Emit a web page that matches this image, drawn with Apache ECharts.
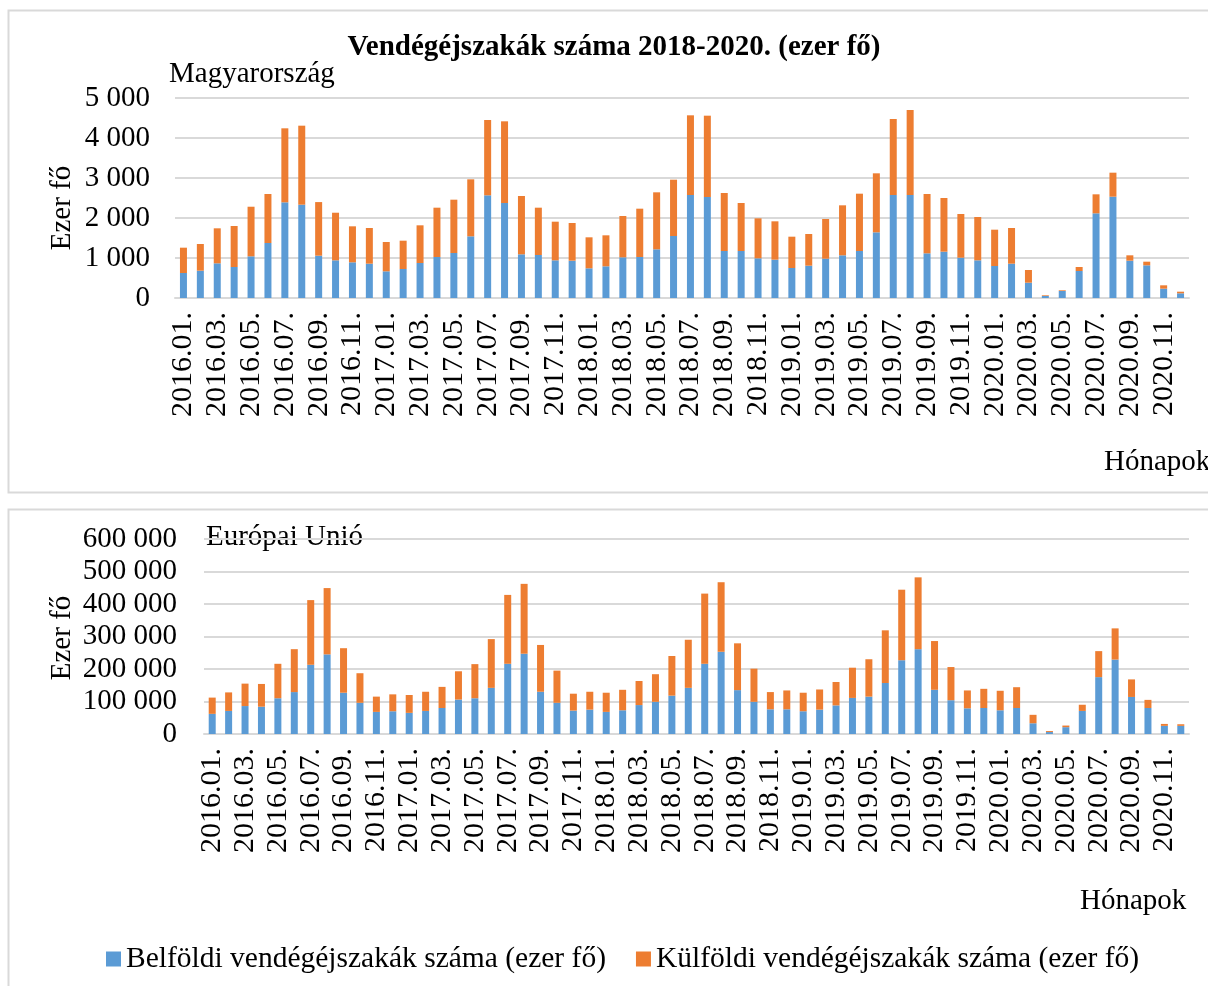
<!DOCTYPE html>
<html>
<head>
<meta charset="utf-8">
<script src="https://cdn.jsdelivr.net/npm/echarts@6/dist/echarts.min.js"></script>
<style>
  html, body { margin: 0; padding: 0; background: #fff; }
  #chart { width: 1208px; height: 986px; }
</style>
</head>
<body>
<div id="chart"></div>
<script>
// months 2016.01. - 2020.12.
var months = [];
[2016, 2017, 2018, 2019, 2020].forEach(function (y) {
    for (var m = 1; m <= 12; m++) {
        months.push(y + '.' + (m < 10 ? '0' + m : m) + '.');
    }
});

// Magyarország, ezer fő
var huBelfoldi = [
    625, 683, 867, 775, 1042, 1375, 2392, 2333, 1058, 942, 892, 858,
    667, 725, 875, 1025, 1125, 1542, 2567, 2375, 1092, 1075, 942, 933,
    742, 792, 1017, 1025, 1217, 1550, 2575, 2525, 1175, 1175, 992, 958,
    750, 808, 983, 1067, 1175, 1642, 2575, 2575, 1117, 1158, 1008, 942,
    800, 858, 383, 50, 175, 675, 2117, 2533, 933, 817, 233, 117
];
var huKulfoldi = [
    633, 667, 875, 1025, 1240, 1225, 1850, 1975, 1340, 1190, 900, 892,
    733, 708, 942, 1233, 1333, 1425, 1883, 2042, 1458, 1183, 966, 942,
    775, 775, 1033, 1208, 1425, 1408, 1992, 2033, 1450, 1200, 1000, 959,
    783, 792, 992, 1250, 1433, 1475, 1900, 2125, 1483, 1342, 1092, 1083,
    908, 892, 317, 17, 17, 100, 475, 600, 134, 91, 84, 41
];

// Európai Unió, ezer fő
var euBelfoldi = [
    62000, 71000, 86000, 84000, 110000, 129000, 213000, 245000, 127000, 96000, 68000, 70000,
    65000, 71000, 80000, 106000, 110000, 142000, 216000, 247000, 130000, 96000, 72000, 75000,
    68000, 73000, 89000, 99000, 118000, 142000, 216000, 253000, 135000, 99000, 76000, 76000,
    70000, 75000, 88000, 111000, 115000, 157000, 227000, 261000, 136000, 104000, 79000, 80000,
    73000, 80000, 33000, 6000, 21000, 71000, 175000, 229000, 114000, 80000, 25000, 25000
];
var euKulfoldi = [
    50000, 57000, 69000, 70000, 106000, 132000, 199000, 204000, 137000, 91000, 47000, 52000,
    55000, 59000, 65000, 87000, 105000, 150000, 212000, 215000, 144000, 99000, 52000, 55000,
    59000, 63000, 74000, 85000, 122000, 148000, 216000, 214000, 144000, 102000, 53000, 58000,
    57000, 62000, 72000, 93000, 115000, 162000, 217000, 221000, 150000, 102000, 55000, 59000,
    60000, 64000, 26000, 3000, 5000, 19000, 80000, 96000, 54000, 25000, 6000, 5000
];

var FONT = 'Liberation Serif';
var BLUE = '#5B9BD5';
var ORANGE = '#ED7D31';
var GRID = '#D9D9D9';

function spaced(v) {
    return String(v).replace(/\B(?=(\d{3})+(?!\d))/g, ' ');
}

function xAxisFor(idx) {
    return {
        type: 'category',
        gridIndex: idx,
        data: months,
        axisTick: { show: false },
        axisLine: { lineStyle: { color: GRID, width: 2 } },
        axisLabel: {
            interval: 1,
            rotate: 90,
            margin: 14,
            color: '#000',
            fontFamily: FONT,
            fontSize: 30
        }
    };
}

function yAxisFor(idx, max, step, margin) {
    return {
        type: 'value',
        gridIndex: idx,
        min: 0,
        max: max,
        interval: step,
        axisLine: { show: false },
        axisTick: { show: false },
        splitLine: { lineStyle: { color: GRID, width: 2 } },
        axisLabel: {
            margin: margin,
            color: '#000',
            fontFamily: FONT,
            fontSize: 29,
            formatter: spaced
        }
    };
}

function txt(x, y, text, font, align, rot) {
    return {
        type: 'text',
        x: x,
        y: y,
        rotation: rot || 0,
        silent: true,
        style: {
            text: text,
            fill: '#000',
            font: font || '29px "' + FONT + '"',
            textAlign: align || 'left',
            textVerticalAlign: 'middle'
        }
    };
}

var chart = echarts.init(document.getElementById('chart'));
chart.setOption({
    animation: false,
    backgroundColor: '#fff',
    textStyle: { fontFamily: FONT },
    grid: [
        { left: 175, right: 19, top: 98, height: 200 },
        { left: 204, right: 19, top: 539, height: 195 }
    ],
    xAxis: [xAxisFor(0), xAxisFor(1)],
    yAxis: [yAxisFor(0, 5000, 1000, 25), yAxisFor(1, 600000, 100000, 27)],
    legend: {
        left: 101,
        top: 939,
        itemWidth: 15,
        itemHeight: 15,
        itemGap: 30,
        icon: 'rect',
        textStyle: { fontFamily: FONT, fontSize: 29.5, color: '#000' },
        data: ['Belföldi vendégéjszakák száma (ezer fő)', 'Külföldi vendégéjszakák száma (ezer fő)']
    },
    graphic: [
        { type: 'rect', shape: { x: 8.5, y: 10.5, width: 1220, height: 482 },
          style: { fill: 'none', stroke: GRID, lineWidth: 2 }, silent: true },
        { type: 'rect', shape: { x: 8.5, y: 509.5, width: 1220, height: 500 },
          style: { fill: 'none', stroke: GRID, lineWidth: 2 }, silent: true },
        txt(614, 48, 'Vendégéjszakák száma 2018-2020. (ezer fő)', 'bold 29px "' + FONT + '"', 'center'),
        txt(169, 74, 'Magyarország'),
        txt(206, 537, 'Európai Unió'),
        txt(1104, 462, 'Hónapok'),
        txt(1080, 901, 'Hónapok'),
        txt(62, 208, 'Ezer fő', null, 'center', Math.PI / 2),
        txt(62, 638, 'Ezer fő', null, 'center', Math.PI / 2)
    ],
    series: [
        { name: 'Belföldi vendégéjszakák száma (ezer fő)', type: 'bar', stack: 'hu',
          xAxisIndex: 0, yAxisIndex: 0, barWidth: 7, itemStyle: { color: BLUE }, data: huBelfoldi },
        { name: 'Külföldi vendégéjszakák száma (ezer fő)', type: 'bar', stack: 'hu',
          xAxisIndex: 0, yAxisIndex: 0, barWidth: 7, itemStyle: { color: ORANGE }, data: huKulfoldi },
        { name: 'Belföldi vendégéjszakák száma (ezer fő)', type: 'bar', stack: 'eu',
          xAxisIndex: 1, yAxisIndex: 1, barWidth: 7, itemStyle: { color: BLUE }, data: euBelfoldi },
        { name: 'Külföldi vendégéjszakák száma (ezer fő)', type: 'bar', stack: 'eu',
          xAxisIndex: 1, yAxisIndex: 1, barWidth: 7, itemStyle: { color: ORANGE }, data: euKulfoldi }
    ]
});
</script>
</body>
</html>
